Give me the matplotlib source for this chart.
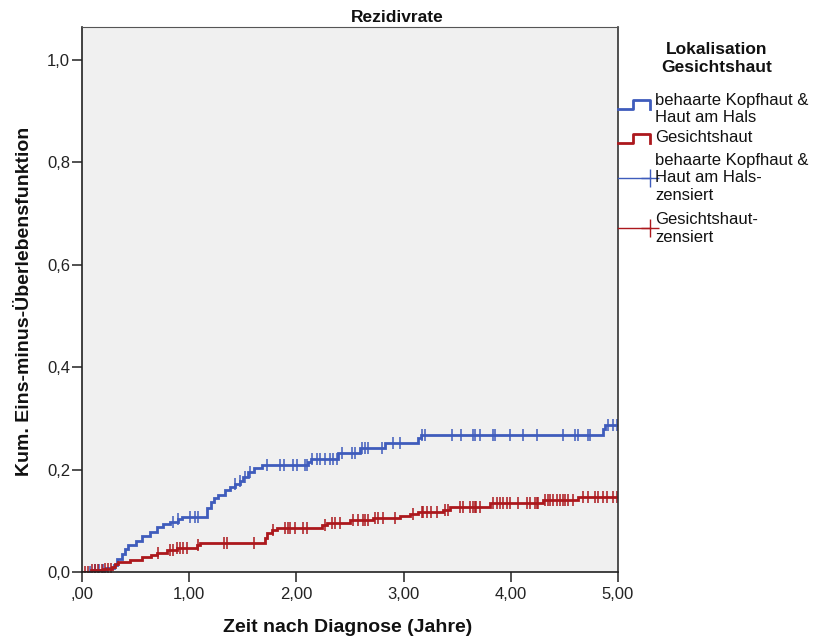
import numpy as np
import matplotlib
matplotlib.use("Agg")
import matplotlib.pyplot as plt
from matplotlib.lines import Line2D
from matplotlib.ticker import FuncFormatter

plt.rcParams["font.family"] = ["Liberation Sans", "DejaVu Sans"]

# Kaplan-Meier step data (time in years, cumulative incidence after the step)
blue_times = [0.10, 0.22, 0.30, 0.33, 0.37, 0.40, 0.43, 0.50, 0.56, 0.63, 0.70,
              0.76, 0.82, 0.90, 0.93, 1.17, 1.20, 1.23, 1.27, 1.33, 1.38, 1.43,
              1.47, 1.50, 1.55, 1.60, 1.68, 2.11, 2.14, 2.39, 2.59, 2.83, 3.13,
              3.16, 4.86, 4.88]
blue_levels = [0.004, 0.008, 0.013, 0.025, 0.035, 0.045, 0.052, 0.060, 0.070,
               0.078, 0.088, 0.093, 0.098, 0.103, 0.107, 0.125, 0.137, 0.145,
               0.150, 0.160, 0.166, 0.172, 0.178, 0.186, 0.195, 0.203, 0.209,
               0.215, 0.221, 0.232, 0.242, 0.252, 0.262, 0.268, 0.280, 0.287]
blue_censored = [0.07, 0.12, 0.16, 0.20, 0.85, 0.90, 1.01, 1.05, 1.08, 1.43,
                 1.47, 1.52, 1.57, 1.73, 1.85, 1.88, 1.97, 2.01, 2.08, 2.10,
                 2.15, 2.19, 2.22, 2.27, 2.31, 2.34, 2.38, 2.43, 2.52, 2.55,
                 2.61, 2.64, 2.67, 2.80, 2.90, 2.97, 3.17, 3.20, 3.45, 3.54,
                 3.65, 3.67, 3.71, 3.83, 3.85, 3.99, 4.11, 4.24, 4.49, 4.60,
                 4.63, 4.72, 4.74, 4.91, 4.95, 4.99]

red_times = [0.08, 0.20, 0.28, 0.31, 0.34, 0.45, 0.56, 0.64, 0.70, 0.79, 0.89,
             1.07, 1.10, 1.71, 1.73, 1.77, 1.82, 2.24, 2.29, 2.50, 2.71, 2.97,
             3.06, 3.13, 3.37, 3.43, 3.81, 4.30, 4.63]
red_levels = [0.003, 0.006, 0.010, 0.015, 0.020, 0.024, 0.029, 0.033, 0.037,
              0.043, 0.047, 0.053, 0.057, 0.066, 0.076, 0.082, 0.086, 0.092,
              0.096, 0.102, 0.106, 0.110, 0.113, 0.117, 0.122, 0.127, 0.134,
              0.140, 0.146]
red_censored = [0.03, 0.06, 0.09, 0.12, 0.15, 0.19, 0.21, 0.24, 0.27, 0.71,
                0.82, 0.85, 0.89, 0.91, 0.94, 0.98, 1.08, 1.32, 1.35, 1.60,
                1.78, 1.89, 1.92, 1.94, 1.99, 2.06, 2.10, 2.27, 2.33, 2.36,
                2.41, 2.53, 2.57, 2.62, 2.64, 2.67, 2.73, 2.76, 2.81, 2.92,
                3.09, 3.17, 3.18, 3.22, 3.26, 3.31, 3.39, 3.41, 3.53, 3.55,
                3.62, 3.65, 3.67, 3.68, 3.71, 3.83, 3.87, 3.90, 3.93, 3.96,
                3.99, 4.07, 4.15, 4.18, 4.23, 4.24, 4.25, 4.32, 4.35, 4.37,
                4.39, 4.43, 4.46, 4.49, 4.51, 4.53, 4.58, 4.67, 4.72, 4.79,
                4.81, 4.86, 4.90, 4.95, 4.99]

legend_title = ["Lokalisation", "Gesichtshaut"]
legend_labels = [["behaarte Kopfhaut &", "Haut am Hals"],
                 ["Gesichtshaut"],
                 ["behaarte Kopfhaut &", "Haut am Hals-", "zensiert"],
                 ["Gesichtshaut-", "zensiert"]]

BLUE = "#3F5CBC"
RED = "#AC181D"
T_END = 5.0


def step_xy(times, levels):
    x = np.concatenate([[0.0], times, [T_END]])
    y = np.concatenate([[0.0], levels, [levels[-1]]])
    return x, y


def level_at(times, levels, t):
    idx = np.searchsorted(times, t, side="right")
    lv = np.concatenate([[0.0], levels])
    return lv[idx]


# helpers for placing things in figure pixels (815 x 644)
def fx(px):
    return px / 815


def fy(py):
    return 1 - py / 644


fig = plt.figure(figsize=(8.15, 6.44), dpi=100)
ax = fig.add_axes([fx(82), fy(572), 536 / 815, 545 / 644])
ax.set_facecolor("#F0F0F0")

for times, levels, cens, col in [(blue_times, blue_levels, blue_censored, BLUE),
                                 (red_times, red_levels, red_censored, RED)]:
    times = np.array(times)
    levels = np.array(levels)
    x, y = step_xy(times, levels)
    ax.step(x, y, where="post", color=col, lw=2.0, solid_joinstyle="miter")
    cens = np.array(cens)
    ax.plot(cens, level_at(times, levels, cens), ls="none", marker="|",
            ms=9, mew=1.1, color=col)

ax.set_xlim(0, 5.0)
ax.set_ylim(0, 1.064)
ax.set_xticks(np.arange(0, 5.01, 1))
ax.set_yticks(np.arange(0, 1.01, 0.2))
ax.xaxis.set_major_formatter(FuncFormatter(
    lambda v, p: ",00" if v == 0 else f"{v:.2f}".replace(".", ",")))
ax.yaxis.set_major_formatter(FuncFormatter(lambda v, p: f"{v:.1f}".replace(".", ",")))
ax.tick_params(direction="out", length=7, width=1.1, labelsize=12, colors="#222222",
               labelcolor="#222222")
ax.tick_params(axis="y", pad=1.5)
ax.tick_params(axis="x", pad=3.5)
for side in ["left", "bottom"]:
    ax.spines[side].set_color("#222222")
    ax.spines[side].set_linewidth(1.2)
ax.spines["top"].set_color("#555555")
ax.spines["right"].set_color("#333333")
ax.spines["right"].set_linewidth(1.2)

fig.text(fx(397), fy(18), "Rezidivrate", ha="center", va="center",
         fontsize=12.5, fontweight="bold", color="#111111")
fig.text(fx(348), fy(628), "Zeit nach Diagnose (Jahre)", ha="center", va="center",
         fontsize=14, fontweight="bold", color="#111111")
fig.text(fx(25), fy(301), "Kum. Eins-minus-Überlebensfunktion", ha="center",
         va="center", rotation=90, fontsize=14, fontweight="bold", color="#111111")

# legend
for py, line in zip([50, 67], legend_title):
    fig.text(fx(717), fy(py), line, ha="center", va="center", fontsize=12.5,
             fontweight="bold", color="#111111")

for py, col in [(109, BLUE), (143, RED)]:
    hx = [fx(618), fx(633), fx(633), fx(650), fx(650)]
    hy = [fy(py), fy(py), fy(py - 9), fy(py - 9), fy(py)]
    fig.add_artist(Line2D(hx, hy, color=col, lw=2.0))

for py, col in [(178, BLUE), (228, RED)]:
    fig.add_artist(Line2D([fx(618), fx(650)], [fy(py), fy(py)], color=col, lw=1.0,
                          marker="+", markevery=[1], ms=13, mew=1.0))

line_y = [[101, 117], [138], [161, 178, 195], [220, 238]]
for ys, lines in zip(line_y, legend_labels):
    for py, line in zip(ys, lines):
        fig.text(fx(655), fy(py), line, ha="left", va="center", fontsize=12,
                 color="#111111")

fig.savefig("out.png", dpi=100)
